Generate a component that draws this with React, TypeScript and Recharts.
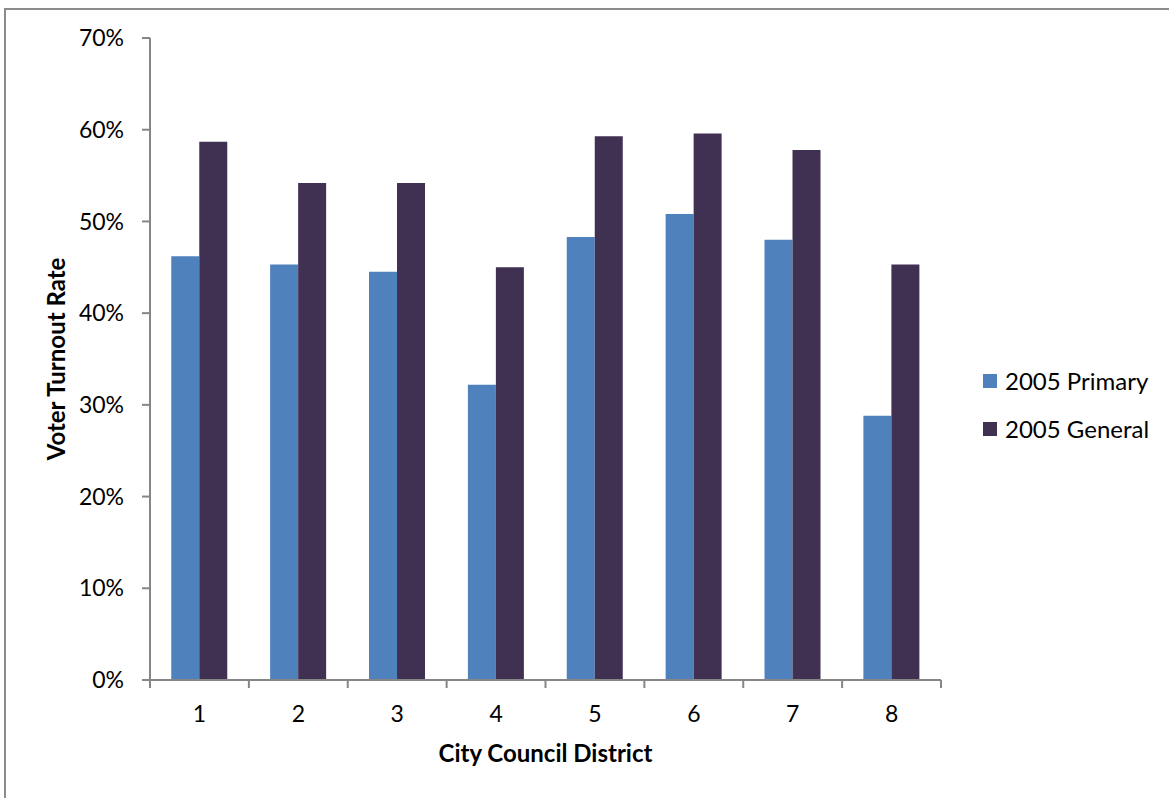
import { Bar, BarChart, XAxis, YAxis, Label } from "recharts"

const districts = ["1", "2", "3", "4", "5", "6", "7", "8"]
const primary2005 = [46.2, 45.3, 44.5, 32.2, 48.3, 50.8, 48.0, 28.8]
const general2005 = [58.7, 54.2, 54.2, 45.0, 59.3, 59.6, 57.8, 45.3]
const percentTicks = [0, 10, 20, 30, 40, 50, 60, 70]

const seriesNames = ["2005 Primary", "2005 General"]
const seriesColors = ["#4f81bd", "#403152"]

const FONT = "Lato, 'DejaVu Sans', sans-serif"
const AXIS_GRAY = "#868686"

const CHART_W = 1169
const MARGIN = { top: 38, right: 228, bottom: 36, left: 0 }
const Y_AXIS_W = 150
// half of one category band, used to put the x tick marks between districts
const HALF_BAND = (CHART_W - MARGIN.right - Y_AXIS_W) / districts.length / 2
const TICK_SIZE = 8
const TICK_MARGIN = 18

// category label with tick marks on the band edges, like the spreadsheet axis
function DistrictTick(props: any) {
  const { x, y, payload, index } = props
  const axisY = y - TICK_SIZE - TICK_MARGIN
  const isLast = index === districts.length - 1
  return (
    <g>
      <line x1={x - HALF_BAND} x2={x - HALF_BAND} y1={axisY} y2={axisY + TICK_SIZE} stroke={AXIS_GRAY} strokeWidth={2} />
      {isLast && (
        <line x1={x + HALF_BAND} x2={x + HALF_BAND} y1={axisY} y2={axisY + TICK_SIZE} stroke={AXIS_GRAY} strokeWidth={2} />
      )}
      <text x={x} y={y} dy="0.71em" textAnchor="middle" fill="#000" fontSize={23} fontFamily={FONT}>
        {payload.value}
      </text>
    </g>
  )
}

export default function App() {
  const chartData = districts.map((d, i) => ({
    district: d,
    primary: primary2005[i],
    general: general2005[i],
  }))

  return (
    <div
      style={{
        position: "absolute",
        left: 0,
        top: 0,
        width: 1169,
        height: 798,
        overflow: "hidden",
        background: "#fff",
        fontFamily: FONT,
      }}
    >
      {/* chart frame, only top and left edges show in the crop */}
      <div
        style={{
          position: "absolute",
          left: 4,
          top: 8,
          width: 1300,
          height: 900,
          borderLeft: "2px solid #8c8c8c",
          borderTop: "2px solid #8c8c8c",
        }}
      />
      <div style={{ position: "absolute", left: 0, top: 0 }}>
        <BarChart
          width={CHART_W}
          height={798}
          data={chartData}
          margin={MARGIN}
          barCategoryGap="21.5%"
          barGap={0}
        >
          <XAxis
            dataKey="district"
            height={82}
            tickLine={false}
            tickSize={TICK_SIZE}
            tickMargin={TICK_MARGIN}
            axisLine={{ stroke: AXIS_GRAY, strokeWidth: 2 }}
            tick={<DistrictTick />}
            interval={0}
          >
            <Label
              value="City Council District"
              position="insideBottom"
              offset={0}
              style={{ fontWeight: "bold", fontSize: 24, fontFamily: FONT, fill: "#000" }}
            />
          </XAxis>
          <YAxis
            type="number"
            domain={[0, 70]}
            ticks={percentTicks}
            width={Y_AXIS_W}
            tickFormatter={(v) => `${v}%`}
            tickSize={TICK_SIZE}
            tickMargin={TICK_MARGIN}
            axisLine={{ stroke: AXIS_GRAY, strokeWidth: 2 }}
            tickLine={{ stroke: AXIS_GRAY, strokeWidth: 2 }}
            tick={{ fill: "#000", fontSize: 23, fontFamily: FONT }}
          >
            <Label
              value="Voter Turnout Rate"
              angle={-90}
              position="insideLeft"
              offset={56}
              style={{ textAnchor: "middle", fontWeight: "bold", fontSize: 24, fontFamily: FONT, fill: "#000" }}
            />
          </YAxis>
          <Bar dataKey="primary" name={seriesNames[0]} fill={seriesColors[0]} isAnimationActive={false} />
          <Bar dataKey="general" name={seriesNames[1]} fill={seriesColors[1]} isAnimationActive={false} />
        </BarChart>
      </div>
      {/* legend */}
      {seriesNames.map((name, i) => (
        <div
          key={name}
          style={{
            position: "absolute",
            left: 983,
            top: 367 + i * 48,
            display: "flex",
            alignItems: "center",
            fontSize: 24,
            lineHeight: "28px",
            color: "#000",
          }}
        >
          <span
            style={{
              display: "inline-block",
              width: 14,
              height: 14,
              background: seriesColors[i],
              marginRight: 8,
            }}
          />
          {name}
        </div>
      ))}
    </div>
  )
}
